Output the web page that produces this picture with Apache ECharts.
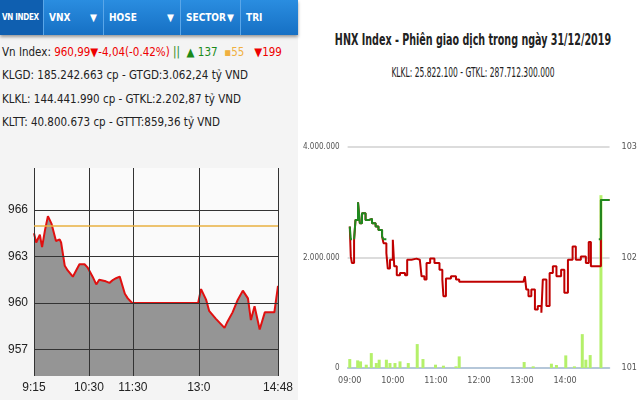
<!DOCTYPE html>
<html lang="vi">
<head>
<meta charset="utf-8">
<title>VN Index / HNX Index</title>
<style>
body{margin:0;width:640px;height:400px;background:#fff;position:relative;overflow:hidden;font-family:"DejaVu Sans Condensed","DejaVu Sans",sans-serif}
#left{position:absolute;left:0;top:0;width:298px;height:400px;background:#f4f4f4;z-index:2}
.tabs{position:absolute;left:0;top:0;width:298px;height:35px;background:linear-gradient(#2a8de0,#1670c4);box-shadow:0 2px 3px #999}
.tab{position:absolute;top:0;height:35px;line-height:35px;color:#fff;font-weight:bold;font-size:10px;border-right:1px solid #5aa6e8;padding-left:5px;box-sizing:border-box;white-space:nowrap}
.tab span{position:absolute;right:6px}
.row{position:absolute;left:2px;font-size:11.5px;color:#222;white-space:nowrap}
#c1{position:absolute;left:0;top:150px;width:298px;height:250px}
#c2{position:absolute;left:300px;top:130px;width:340px;height:270px}
.t{position:absolute;left:248px;width:450px;text-align:center;color:#222;white-space:nowrap;transform-origin:225px 0}
</style>
</head>
<body>
<div id="left">
  <div class="tabs">
    <div class="tab" style="left:0;width:44px;background:#0f5fb0;padding-left:2px;font-size:8px;letter-spacing:-0.3px">VN INDEX</div>
    <div class="tab" style="left:44px;width:60px">VNX<span>▼</span></div>
    <div class="tab" style="left:104px;width:77px">HOSE<span>▼</span></div>
    <div class="tab" style="left:181px;width:60px">SECTOR<span>▼</span></div>
    <div class="tab" style="left:241px;width:57px;border:none">TRI</div>
  </div>
  <div class="row" style="top:45px">Vn Index: <span style="color:#e00">960,99▼-4,04(-0.42%)</span> <span style="color:#1a8a1a">||&nbsp;&nbsp;▲ 137</span>&nbsp;&nbsp;<span style="color:#f0b040">▪55</span>&nbsp;&nbsp;&nbsp;<span style="color:#e00">▼199</span></div>
  <div class="row" style="top:68px">KLGD: 185.242.663 cp - GTGD:3.062,24 tỷ VND</div>
  <div class="row" style="top:92px">KLKL: 144.441.990 cp - GTKL:2.202,87 tỷ VND</div>
  <div class="row" style="top:115px">KLTT: 40.800.673 cp - GTTT:859,36 tỷ VND</div>
  <div id="c1"></div>
</div>
<div class="t" style="top:31px;font-size:15px;font-weight:bold;transform:scaleX(0.71)">HNX Index - Phiên giao dịch trong ngày 31/12/2019</div>
<div class="t" style="top:64px;font-size:14px;transform:scaleX(0.6)">KLKL: 25.822.100 - GTKL: 287.712.300.000</div>
<div id="c2"></div>
<script src="https://cdn.jsdelivr.net/npm/echarts@6/dist/echarts.min.js"></script>
<script>
// VN Index: minutes since 9:15, index value
var vnMin = [0,3,8,11,15,19,24,30,35,37,42,46,53,62,69,73,80,85,89,98,103,108,112,117,124,128,134,224,228,235,239,248,260,264,271,278,285,292,296,301,308,315,328,333];
var vnVal = [964.5,963.9,964.4,963.6,964.7,965.6,965.1,964.0,964.1,963.9,962.4,962.1,961.7,962.5,962.5,962.3,961.7,961.2,961.5,961.4,961.3,961.5,961.6,961.7,960.6,960.3,960.0,960.0,960.9,960.2,959.5,959.0,958.4,958.8,959.4,960.2,960.8,960.3,958.9,959.8,958.3,959.4,959.4,961.1];
var vnRef = 965.0;
var vnTickMin = [0,75,135,225,333];
var vnTickLbl = ['9:15','10:30','11:30','13:0','14:48'];
var vnYTicks = [957,960,963,966];

// HNX Index: minutes since 9:00
var hnxMin = [0,1.4,3,6,8,11.5,14,17,22,27,31,36,40,45,47,51,53,56,60,62,65.5,70,77,80,86,93,97.6,100,104,107,112,118,125,129,130.5,134,141,148,152.5,242,244,246,249,253,258,262,267,269,274,278.5,283,288,294.5,299,304,310.5,315,322,329,333,336,347,350,362];
var hnxVal = [102.28,102.01,101.95,102.16,102.34,102.50,102.31,102.40,102.34,102.35,102.31,102.28,102.25,102.19,102.13,102.04,101.90,101.98,102.16,101.92,101.84,101.86,101.84,101.98,101.99,101.98,101.99,101.83,101.80,101.95,101.99,101.95,101.89,101.80,101.65,101.81,101.83,101.80,101.78,101.78,101.83,101.71,101.65,101.71,101.53,101.56,101.50,101.80,101.56,101.86,101.92,101.83,101.89,101.68,101.98,102.10,101.98,102.01,101.95,102.14,101.92,101.92,102.52,102.52];
var hnxThr = 102.165;
var volMin = [0,11,15,23,30,37,41,51,56,63,70,81.5,94,102,119.5,130.5,148,152.5,243,255.6,281,288,301,313,324,329,335,350];
var volVal = [162000,138000,120000,60000,270000,90000,150000,150000,90000,90000,120000,90000,433000,162000,60000,42000,30000,210000,108000,30000,78000,54000,228000,30000,613000,150000,234000,3128000];
var hnxTickMin = [0,60,120,180,240,300];
var hnxTickLbl = ['09:00','10:00','11:00','12:00','13:00','14:00'];

function zip(a, b) { return a.map(function (v, i) { return [v, b[i]]; }); }

var c1 = echarts.init(document.getElementById('c1'));
var gridLines = vnTickMin.map(function (m) { return { xAxis: m }; })
  .concat(vnYTicks.map(function (v) { return { yAxis: v }; }));
gridLines.push({ yAxis: vnRef, lineStyle: { color: '#e8b040', width: 1.5 } });
c1.setOption({
  animation: false,
  grid: { left: 34, right: 20, top: 18, bottom: 24, backgroundColor: '#fafafa', show: true, borderWidth: 0 },
  xAxis: {
    type: 'value', min: 0, max: 333,
    axisLine: { show: false }, axisTick: { show: false }, splitLine: { show: false },
    axisLabel: { customValues: vnTickMin, formatter: function (v) { return vnTickLbl[vnTickMin.indexOf(v)]; }, color: '#222', fontSize: 12, margin: 6 }
  },
  yAxis: {
    type: 'value', min: 955.3, max: 968.7,
    axisLine: { show: false }, axisTick: { show: false }, splitLine: { show: false },
    axisLabel: { customValues: vnYTicks, color: '#222', fontSize: 12, margin: 6 }
  },
  series: [{
    type: 'line', data: zip(vnMin, vnVal), symbol: 'none',
    lineStyle: { color: '#e01010', width: 2 },
    areaStyle: { color: '#959595', opacity: 1, origin: 'start' },
    z: 3,
    markLine: {
      silent: true, symbol: 'none', label: { show: false },
      lineStyle: { color: '#333', type: 'solid', width: 1 },
      data: gridLines
    }
  }]
});

// part of the price line above the reference level is drawn green
var hnxUp = hnxMin.map(function (m, i) {
  var v = hnxVal[i];
  if (v >= hnxThr) return [m, v];
  var prevUp = i > 0 && hnxVal[i - 1] >= hnxThr;
  var nextUp = i < hnxVal.length - 1 && hnxVal[i + 1] >= hnxThr;
  return (prevUp || nextUp) ? [m, hnxThr] : [m, null];
});

var c2 = echarts.init(document.getElementById('c2'));
c2.setOption({
  animation: false,
  grid: { left: 47, right: 23, top: 17, bottom: 32 },
  xAxis: {
    type: 'value', min: -3, max: 362,
    axisLine: { lineStyle: { color: '#a8c0d8', width: 1.5 } },
    axisTick: { show: false },
    splitLine: { show: false },
    axisLabel: { customValues: hnxTickMin, formatter: function (v) { return hnxTickLbl[hnxTickMin.indexOf(v)]; }, color: '#555', fontSize: 9, fontFamily: 'DejaVu Sans Condensed', margin: 8 }
  },
  yAxis: [{
    type: 'value', min: 0, max: 4000000, interval: 2000000,
    axisLine: { show: false }, axisTick: { show: false },
    splitLine: { lineStyle: { color: '#d0d0d0', width: 1.5 } },
    axisLabel: { color: '#555', fontSize: 8, fontFamily: 'DejaVu Sans Condensed', formatter: function (v) { return String(v).replace(/\B(?=(\d{3})+(?!\d))/g, '.'); } }
  }, {
    type: 'value', min: 101, max: 103, interval: 1, position: 'right',
    axisLine: { show: false }, axisTick: { show: false }, splitLine: { show: false },
    axisLabel: { color: '#555', fontSize: 9, fontFamily: 'DejaVu Sans Condensed', margin: 12 }
  }],
  series: [{
    type: 'bar', data: zip(volMin, volVal), barWidth: 3,
    itemStyle: { color: '#b4f06a' }
  }, {
    type: 'line', yAxisIndex: 1, data: zip(hnxMin, hnxVal), symbol: 'none', step: 'end',
    lineStyle: { width: 2, color: '#c00000' }
  }, {
    type: 'line', yAxisIndex: 1, data: hnxUp, symbol: 'none', step: 'end', connectNulls: false,
    lineStyle: { width: 2, color: '#1f8a1f' }
  }]
});
</script>
</body>
</html>
